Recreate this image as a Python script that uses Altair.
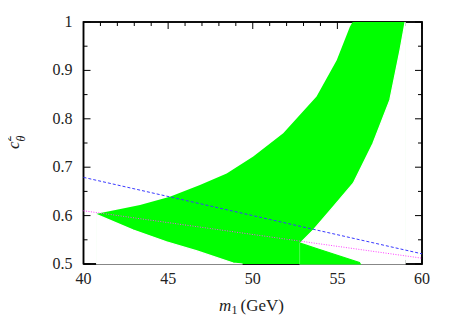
import altair as alt
import pandas as pd

# Upper (left) boundary of the green allowed region
upper_x = [40.78, 41.96, 43.34, 45.1, 46.88, 48.46, 50.03, 51.8, 53.77, 54.96, 55.74, 55.9, 59.0]
upper_y = [0.604, 0.612, 0.622, 0.639, 0.663, 0.687, 0.722, 0.770, 0.846, 0.921, 0.99, 1.0, 1.0]
# Lower edge of the left wedge
lower_x = [40.78, 42.94, 44.9, 46.7, 48.85, 49.4]
lower_y = [0.602, 0.570, 0.546, 0.527, 0.502, 0.5]
# Right boundary of the band
right_x = [52.8, 53.57, 54.75, 55.94, 57.1, 58.1, 58.7, 59.0]
right_y = [0.543, 0.570, 0.618, 0.667, 0.749, 0.839, 0.942, 1.0]
# Lower triangle top edge
tri_x = [52.8, 53.77, 56.3, 56.35]
tri_y = [0.543, 0.532, 0.503, 0.5]
# Straight lines
blue_x = [40, 60]
blue_y = [0.679, 0.521]
mag_x = [40, 60]
mag_y = [0.610, 0.512]

x_major = [40, 45, 50, 55, 60]
x_labels = ["40", "45", "50", "55", "60"]
x_minor = [41, 42, 43, 44, 46, 47, 48, 49, 51, 52, 53, 54, 56, 57, 58, 59]
y_major = [0.5, 0.6, 0.7, 0.8, 0.9, 1.0]
y_labels = ["0.5", "0.6", "0.7", "0.8", "0.9", "1"]
y_minor = [0.55, 0.65, 0.75, 0.85, 0.95]

X0, X1, Y0, Y1 = 40, 60, 0.5, 1.0
W, H = 338.5, 242
FONT = "Liberation Serif"
TC = "black"
LC = "#222222"

xs = alt.Scale(domain=[X0, X1], nice=False, zero=False)
ys = alt.Scale(domain=[Y0, Y1], nice=False, zero=False)

def X():
    return alt.X("x:Q", scale=xs, axis=None)

def Y():
    return alt.Y("y:Q", scale=ys, axis=None)

def df(x, y):
    return pd.DataFrame({"x": x, "y": y})

# frame and inward ticks first (the green region is drawn over them, as in the reference)
frame_df = pd.DataFrame({"x": [X0, X1, X1, X0, X0], "y": [Y0, Y0, Y1, Y1, Y0],
                         "o": [0, 1, 2, 3, 4]})
frame = alt.Chart(frame_df).mark_line(color=TC, strokeWidth=1.5).encode(
    x=X(), y=Y(), order="o:Q")

px_x = (X1 - X0) / W
px_y = (Y1 - Y0) / H
rows = []
k = 0
for vals, ln in ((x_major, 7), (x_minor, 4)):
    for v in vals:
        for base, sgn in ((Y0, 1), (Y1, -1)):
            rows += [{"id": k, "o": 0, "x": v, "y": base},
                     {"id": k, "o": 1, "x": v, "y": base + sgn * ln * px_y}]
            k += 1
for vals, ln in ((y_major, 7), (y_minor, 4)):
    for v in vals:
        for base, sgn in ((X0, 1), (X1, -1)):
            rows += [{"id": k, "o": 0, "x": base, "y": v},
                     {"id": k, "o": 1, "x": base + sgn * ln * px_x, "y": v}]
            k += 1
ticks = alt.Chart(pd.DataFrame(rows)).mark_line(color=TC, strokeWidth=1).encode(
    x=X(), y=Y(), detail="id:N", order="o:Q")

green = alt.Chart(df(upper_x, upper_y)).mark_area(color="#00ff00", opacity=1).encode(
    x=X(), y=Y(), y2=alt.datum(0.5))
white_low = alt.Chart(df(lower_x, lower_y)).mark_area(
    color="white", opacity=1, stroke="white", strokeWidth=1.2).encode(x=X(), y=Y(), y2=alt.datum(0.5))
white_right = alt.Chart(df(right_x, right_y)).mark_area(
    color="white", opacity=1, stroke="white", strokeWidth=1.2).encode(x=X(), y=Y(), y2=alt.datum(0.5))
tri = alt.Chart(df(tri_x, tri_y)).mark_area(
    color="#00ff00", opacity=1, stroke="#00ff00", strokeWidth=1.2).encode(x=X(), y=Y(), y2=alt.datum(0.5))

def line(x, y, color, dash):
    return alt.Chart(df(x, y)).mark_line(color=color, strokeWidth=1, strokeDash=dash).encode(
        x=X(), y=Y())

blue = line(blue_x, blue_y, "#3a3aff", [3, 2])
mag = line(mag_x, mag_y, "#ff40ff", [1, 1.5])

# tick labels as text placed through the scales
xlab = alt.Chart(pd.DataFrame({"x": x_major, "lab": x_labels})).mark_text(
    font=FONT, fontSize=16, color=LC, align="center", baseline="alphabetic").encode(
    x=X(), y=alt.value(H + 19.5), text="lab:N")
ylab = alt.Chart(pd.DataFrame({"y": y_major, "lab": y_labels})).mark_text(
    font=FONT, fontSize=16, color=LC, align="right", baseline="middle").encode(
    y=Y(), x=alt.value(-11), text="lab:N")

def label(txt, px, py, size, italic=False, angle=0):
    kw = dict(font=FONT, fontSize=size, color=LC, align="left", baseline="alphabetic")
    if italic:
        kw["fontStyle"] = "italic"
    if angle:
        kw["angle"] = angle
    return alt.Chart(pd.DataFrame({"t": [txt]})).mark_text(**kw).encode(
        text="t:N", x=alt.value(px), y=alt.value(py))

titles = [
    label("m", 135.5, 289, 17, italic=True),
    label("1", 148, 292, 12),
    label("(GeV)", 157, 289, 17),
    label("c", -65, 127, 17, italic=True, angle=270),
    label("2", -73, 119.5, 12, angle=270),
    label("θ", -58.5, 119.5, 12, italic=True, angle=270),
]

layers = [frame, ticks, green, white_low, white_right, tri, blue, mag, xlab, ylab] + titles

chart = alt.layer(*layers).properties(
    width=W, height=H,
    autosize=alt.AutoSizeParams(type="none"),
    padding={"left": 75.5, "top": 14, "right": 24, "bottom": 52},
    background="white",
).configure_view(stroke="black", strokeWidth=1.5)

chart.save("out.html", embed_options={"renderer": "svg", "actions": False})
